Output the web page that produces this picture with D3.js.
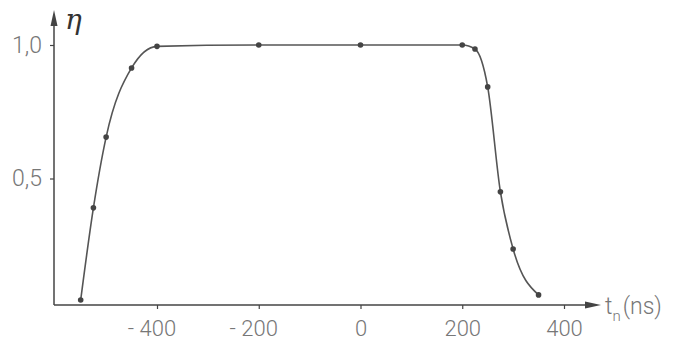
<!DOCTYPE html>
<html>
<head>
<meta charset="utf-8">
<script src="https://cdn.jsdelivr.net/npm/d3@7"></script>
<style>
  html, body { margin: 0; padding: 0; background: #fff; }
  svg { display: block; }
  .lbl { font-family: "Roboto", "DejaVu Sans", sans-serif; font-weight: 300; fill: #777; }
</style>
</head>
<body>
<svg id="root" width="675" height="342"></svg>
<script>
"use strict";

// measured points, t in ns, efficiency eta
const tValues = [-550, -525, -500, -450, -400, -200, 0, 200, 225, 250, 275, 300, 350];
const etaValues = [0.045, 0.39, 0.655, 0.914, 0.995, 1.0, 1.0, 1.0, 0.985, 0.843, 0.45, 0.236, 0.064];
const xTicks = [-400, -200, 0, 200, 400];
const xTickLabels = ["- 400", "- 200", "0", "200", "400"];
const yTicks = [0.5, 1.0];
const yTickLabels = ["0,5", "1,0"];

window.svg = d3.select("#root");

// linear mapping
window.xScale = d3.scaleLinear().domain([-400, 400]).range([157, 564]);
window.yScale = d3.scaleLinear().domain([0, 1]).range([312, 45]);

const axisX = 54;
const axisY = 305;

drawAxes();
drawLine();
drawDots();

function drawAxes() {
  const ink = "#444";

  // x axis line and arrow
  window.svg
    .append("line")
    .attr("x1", axisX)
    .attr("x2", 590)
    .attr("y1", axisY)
    .attr("y2", axisY)
    .attr("stroke", ink)
    .attr("stroke-width", 1.5);
  window.svg
    .append("path")
    .attr("d", `M601,${axisY} L585,${axisY - 3.5} L585,${axisY + 3.5} Z`)
    .attr("fill", ink);

  // y axis line and arrow
  window.svg
    .append("line")
    .attr("x1", axisX)
    .attr("x2", axisX)
    .attr("y1", axisY)
    .attr("y2", 22)
    .attr("stroke", ink)
    .attr("stroke-width", 1.5);
  window.svg
    .append("path")
    .attr("d", `M${axisX},10 L${axisX - 3.5},26 L${axisX + 3.5},26 Z`)
    .attr("fill", ink);

  // x ticks
  const gx = window.svg
    .append("g")
    .attr("transform", `translate(0, ${axisY})`)
    .call(
      d3
        .axisBottom(window.xScale)
        .tickValues(xTicks)
        .tickSize(4)
        .tickPadding(11)
        .tickFormat((d, i) => xTickLabels[i])
    );
  gx.select(".domain").remove();
  gx.selectAll(".tick line").attr("stroke", ink).attr("stroke-width", 1.2);
  gx.selectAll(".tick text")
    .attr("class", "lbl")
    .attr("font-size", 22)
    .attr("dx", (d) => (d < 0 ? "-0.25em" : 0));

  // y ticks
  const gy = window.svg
    .append("g")
    .attr("transform", `translate(${axisX}, 0)`)
    .call(
      d3
        .axisLeft(window.yScale)
        .tickValues(yTicks)
        .tickSize(4)
        .tickPadding(8)
        .tickFormat((d, i) => yTickLabels[i])
    );
  gy.select(".domain").remove();
  gy.selectAll(".tick line").attr("stroke", ink).attr("stroke-width", 1.2);
  gy.selectAll(".tick text").attr("class", "lbl").attr("font-size", 23);

  // axis titles
  window.svg
    .append("text")
    .attr("x", 65)
    .attr("y", 29)
    .attr("font-family", "DejaVu Serif, serif")
    .attr("font-style", "italic")
    .attr("font-size", 28)
    .attr("fill", "#333")
    .text("η");

  const xTitle = window.svg
    .append("text")
    .attr("class", "lbl")
    .attr("x", 605)
    .attr("y", 314)
    .attr("font-size", 23);
  xTitle.append("tspan").text("t");
  xTitle.append("tspan").attr("font-size", 15).attr("dy", 7).text("n");
  xTitle.append("tspan").attr("dy", -7).attr("dx", 2).text("(ns)");
}

function drawLine() {
  const points = tValues.map((t, i) => [t, etaValues[i]]);
  const line = d3
    .line()
    .x((d) => window.xScale(d[0]))
    .y((d) => window.yScale(d[1]))
    .curve(d3.curveMonotoneX);

  window.svg
    .append("path")
    .attr("d", line(points))
    .attr("fill", "none")
    .attr("stroke", "#555")
    .attr("stroke-width", 1.6);
}

function drawDots() {
  window.svg
    .append("g")
    .selectAll("circle")
    .data(tValues)
    .join("circle")
    .attr("cx", (d) => window.xScale(d))
    .attr("cy", (d, i) => window.yScale(etaValues[i]))
    .attr("r", 2.8)
    .attr("fill", "#444");
}
</script>
</body>
</html>
